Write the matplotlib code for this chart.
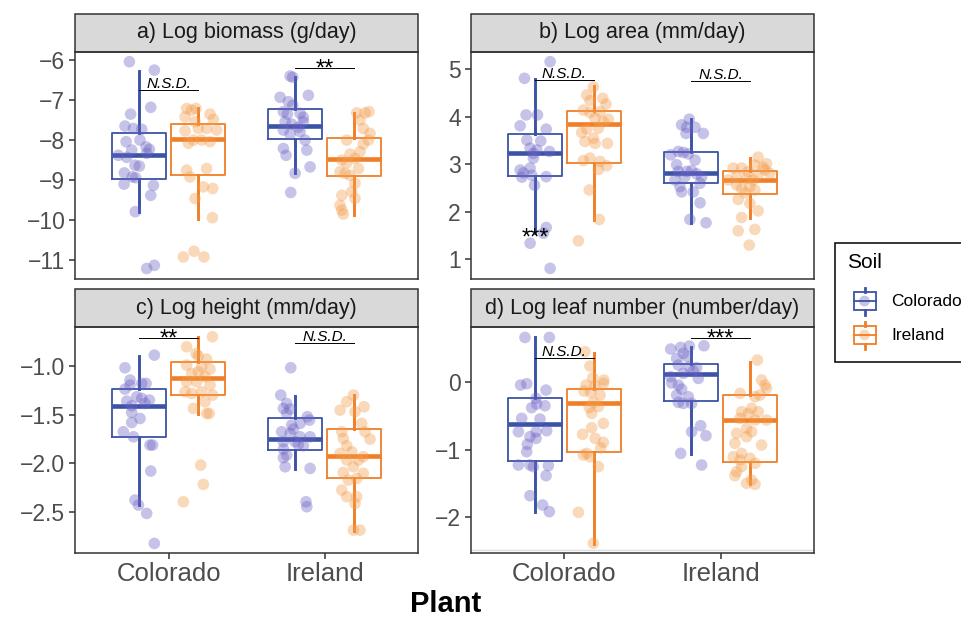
import numpy as np
import matplotlib.pyplot as plt
from matplotlib.patches import Rectangle

plt.rcParams['font.family'] = ['Liberation Sans', 'DejaVu Sans']

plants = ["Colorado", "Ireland"]
soils = ["Colorado", "Ireland"]
titles = ["a) Log biomass (g/day)", "b) Log area (mm/day)",
          "c) Log height (mm/day)", "d) Log leaf number (number/day)"]

# groups in order: plant Col/soil Col, plant Col/soil Ire, plant Ire/soil Col, plant Ire/soil Ire
biomass_lo = [-9.79, -9.96, -8.83, -9.86]
biomass_q1 = [-8.96, -8.875, -7.97, -8.90]
biomass_med = [-8.36, -7.98, -7.65, -8.46]
biomass_q3 = [-7.81, -7.60, -7.21, -7.94]
biomass_hi = [-6.28, -7.19, -6.43, -7.33]

area_lo = [1.55, 1.83, 1.77, 1.88]
area_q1 = [2.75, 3.03, 2.60, 2.38]
area_med = [3.23, 3.85, 2.81, 2.68]
area_q3 = [3.64, 4.12, 3.25, 2.86]
area_hi = [4.79, 4.65, 3.95, 3.14]

height_lo = [-2.43, -1.49, -2.06, -2.70]
height_q1 = [-1.73, -1.30, -1.86, -2.15]
height_med = [-1.41, -1.127, -1.75, -1.93]
height_q3 = [-1.24, -0.956, -1.53, -1.65]
height_hi = [-0.90, -0.70, -1.31, -1.30]

leaf_lo = [-1.93, -2.40, -1.06, -1.52]
leaf_q1 = [-1.17, -1.03, -0.27, -1.18]
leaf_med = [-0.625, -0.30, 0.12, -0.56]
leaf_q3 = [-0.23, -0.10, 0.27, -0.19]
leaf_hi = [0.67, 0.44, 0.52, 0.31]

# jittered observations (y) with their horizontal jitter (dx)
biomass_y = [
    [-6.04, -6.25, -7.18, -7.35, -7.65, -7.71, -7.73, -8.04, -8.0, -8.17, -8.23, -8.38, -8.43,
     -8.63, -8.65, -8.82, -8.92, -8.94, -9.1, -9.13, -9.38, -9.79, -11.21, -11.13, -8.33, -8.25],
    [-7.21, -7.25, -7.21, -7.35, -7.48, -7.42, -7.54, -7.77, -7.71, -7.71, -7.75, -8.08, -8.0,
     -8.0, -8.04, -8.75, -8.92, -8.71, -9.17, -9.21, -9.46, -9.94, -10.92, -10.78, -10.92],
    [-6.4, -6.43, -6.88, -6.93, -7.04, -7.13, -7.29, -7.35, -7.33, -7.43, -7.54, -7.6, -7.68,
     -7.75, -7.85, -8.0, -8.25, -8.21, -8.38, -8.67, -8.83, -9.31, -7.54, -7.79],
    [-7.32, -7.32, -7.29, -7.5, -7.71, -7.83, -8.0, -8.0, -8.1, -8.29, -8.35, -8.46, -8.5,
     -8.57, -8.71, -8.79, -8.83, -8.88, -9.08, -9.29, -9.38, -9.46, -9.63, -9.75, -9.85],
]
biomass_dx = [
    [-0.064, 0.096, 0.073, -0.056, -0.092, -0.038, 0.015, -0.085, 0.004, 0.043, 0.064, -0.135, -0.081,
     -0.028, 0, -0.096, -0.045, -0.024, -0.098, 0.09, 0.073, -0.026, 0.047, 0.096, 0.047, -0.049],
    [-0.072, -0.04, -0.012, 0.078, 0.099, -0.082, -0.018, -0.082, 0.003, 0.056, 0.12, -0.061, -0.029,
     0.024, 0.078, -0.072, -0.051, 0.056, 0.035, 0.095, -0.018, 0.093, -0.093, -0.025, 0.039],
    [-0.034, -0.017, 0.083, -0.098, -0.045, -0.017, -0.077, -0.051, 0.03, 0.051, -0.066, -0.024, 0.019,
     -0.077, -0.034, 0.062, 0.073, -0.077, -0.06, 0.094, -0.002, -0.03, 0.051, 0.03],
    [0.018, 0.071, 0.097, 0.039, 0.06, 0.103, -0.046, 0.093, 0.06, 0.039, -0.025, 0.007, -0.078,
     -0.046, 0.029, -0.089, -0.057, -0.025, 0.007, -0.014, -0.078, 0.007, -0.089, -0.078, -0.068],
]

area_y = [
    [5.16, 4.81, 4.04, 4.04, 3.81, 3.74, 3.51, 3.49, 3.34, 3.27, 3.23, 3.3, 3.13, 2.88, 2.92, 2.82,
     2.77, 2.73, 2.74, 2.56, 1.67, 1.55, 1.34, 0.81],
    [4.63, 4.46, 4.34, 4.39, 4.27, 4.14, 4.09, 4.11, 3.97, 3.95, 3.9, 3.74, 3.76, 3.67, 3.55, 3.48,
     3.44, 3.44, 3.13, 3.08, 3.06, 2.97, 2.89, 2.46, 1.84, 1.39],
    [3.95, 3.83, 3.78, 3.78, 3.65, 3.65, 3.27, 3.25, 3.22, 3.2, 3.09, 2.99, 2.85, 2.85, 2.87, 2.8,
     2.73, 2.74, 2.6, 2.67, 2.53, 2.42, 2.42, 2.19, 1.84, 1.77],
    [3.15, 2.985, 2.94, 3.01, 2.92, 2.92, 2.845, 2.775, 2.81, 2.74, 2.705, 2.67, 2.67, 2.565, 2.494,
     2.53, 2.46, 2.4, 2.26, 2.18, 2.02, 1.88, 1.6, 1.63, 1.3, 2.88],
]
area_dx = [
    [0.096, -0.068, -0.058, 0.015, -0.096, 0.071, -0.053, 0.036, -0.032, 0.092, -0.011, 0.011, -0.011,
     -0.096, -0.032, -0.075, -0.021, -0.085, 0.071, -0.004, 0.071, 0.053, -0.032, 0.096],
    [-0.002, -0.045, -0.024, 0.058, 0.079, -0.066, -0.024, 0.041, 0.009, 0.094, 0.062, -0.045, 0.03,
     -0.077, -0.002, -0.056, 0.009, 0.088, -0.024, -0.066, 0.041, 0.083, 0.03, -0.028, 0.036, -0.098],
    [-0.013, -0.062, -0.03, 0.024, -0.034, 0.077, -0.083, -0.051, -0.019, -0.132, 0.024, -0.094, -0.083,
     -0.03, 0.002, 0.034, 0.066, -0.041, 0.056, -0.105, -0.073, -0.062, 0.013, 0.056, -0.009, 0.094],
    [0.053, 0.032, 0.085, 0.107, -0.107, -0.053, -0.011, 0.053, 0.128, -0.085, -0.021, 0.021, -0.139,
     -0.085, -0.053, 0, 0.032, -0.032, -0.075, 0, 0.053, -0.053, -0.075, 0.032, -0.004, 0.096],
]

height_y = [
    [-0.887, -1.017, -1.144, -1.179, -1.179, -1.196, -1.237, -1.316, -1.333, -1.35, -1.361, -1.385,
     -1.409, -1.478, -1.54, -1.581, -1.677, -1.729, -1.814, -1.814, -2.082, -2.381, -2.433, -2.519, -2.828],
    [-0.698, -0.801, -0.87, -0.894, -0.928, -0.99, -1.007, -1.031, -1.076, -1.058, -1.11, -1.162,
     -1.162, -1.196, -1.265, -1.282, -1.265, -1.299, -1.368, -1.436, -1.488, -1.488, -2.021, -2.22, -2.399],
    [-1.017, -1.299, -1.385, -1.436, -1.443, -1.488, -1.522, -1.557, -1.608, -1.591, -1.65, -1.677,
     -1.694, -1.729, -1.729, -1.78, -1.78, -1.808, -1.821, -1.856, -1.918, -1.945, -2.038, -2.055,
     -2.399, -2.45],
    [-1.299, -1.368, -1.454, -1.419, -1.471, -1.591, -1.677, -1.677, -1.753, -1.746, -1.821, -1.883,
     -1.9, -1.935, -1.969, -1.969, -2.038, -2.096, -2.106, -2.158, -2.175, -2.278, -2.347, -2.347,
     -2.416, -2.691, -2.691],
]
height_dx = [
    [0.096, -0.092, -0.06, 0.015, 0.043, -0.06, -0.092, -0.017, 0.015, 0.064, -0.081, 0.036,
     -0.049, -0.049, 0.004, -0.049, -0.103, -0.038, 0.068, 0.085, 0.073, -0.028, -0.006, 0.047, 0.096],
    [0.093, -0.072, -0.012, 0.003, 0.056, -0.072, 0.024, 0.078, -0.04, 0.003, 0.046, -0.072,
     -0.008, 0.078, -0.082, -0.04, 0.024, 0.095, 0.046, -0.029, 0.056, 0.073, 0.018, 0.035, -0.093],
    [-0.03, -0.094, -0.056, -0.077, -0.034, -0.056, 0.077, 0.09, -0.024, 0.03, -0.013, -0.088,
     -0.034, 0.03, 0.094, -0.077, -0.002, 0.019, 0.051, -0.077, -0.056, -0.077, -0.066, 0.094,
     0.068, 0.073],
    [-0.003, -0.046, -0.089, 0.065, 0.007, 0.05, -0.078, 0.071, 0.103, -0.068, -0.046, -0.014,
     -0.089, 0.06, -0.046, 0.029, -0.003, -0.068, 0.06, 0.018, -0.036, -0.078, -0.046, 0.018,
     0.007, -0.003, 0.039],
]

leaf_y = [
    [0.669, 0.669, -0.04, -0.02, -0.115, -0.238, -0.323, -0.348, -0.377, -0.536, -0.546, -0.735,
     -0.735, -0.72, -0.809, -0.834, -0.923, -1.032, -1.23, -1.23, -1.255, -1.24, -1.389, -1.687,
     -1.826, -1.925],
    [0.456, 0.243, 0.069, 0.034, -0.015, -0.04, -0.05, -0.129, -0.149, -0.189, -0.298, -0.377,
     -0.362, -0.462, -0.611, -0.675, -0.774, -0.834, -0.893, -0.973, -1.057, -1.082, -1.107,
     -1.255, -1.935, -2.396],
    [0.496, 0.52, 0.54, 0.545, 0.431, 0.357, 0.382, 0.258, 0.233, 0.218, 0.168, 0.133, 0.084,
     0.059, -0.01, -0.04, -0.1, -0.189, -0.214, -0.298, -0.313, -0.313, -0.645, -0.735, -0.794,
     -1.057, -1.23],
    [0.332, 0.034, -0.04, -0.09, -0.189, -0.164, -0.214, -0.387, -0.437, -0.462, -0.437, -0.536,
     -0.561, -0.561, -0.685, -0.735, -0.759, -0.809, -0.908, -0.933, -1.057, -1.107, -1.156,
     -1.131, -1.206, -1.255, -1.33, -1.389, -1.454, -1.503, -1.518],
]
leaf_dx = [
    [-0.065, 0.091, -0.093, -0.054, 0.07, 0.006, 0.01, 0.063, -0.022, -0.086, 0.031, -0.107,
     0.006, 0.074, -0.033, 0.006, -0.05, -0.054, -0.107, -0.033, -0.011, 0.085, 0.07, -0.033,
     0.048, 0.091],
    [-0.056, -0.024, -0.006, 0.066, 0.062, -0.049, 0.009, -0.062, -0.019, 0.041, -0.002, -0.028,
     0.03, -0.013, 0.062, -0.013, -0.071, 0.009, 0.062, 0.045, -0.045, -0.066, -0.024, 0.03,
     -0.098, -0.002],
    [-0.132, -0.068, -0.013, 0.081, -0.051, -0.094, -0.026, -0.083, -0.013, 0.034, 0.013, -0.051,
     -0.132, 0.045, -0.126, -0.083, -0.062, -0.094, -0.019, -0.083, -0.051, 0.002, 0.06, 0.002,
     0.094, -0.068, 0.066],
    [0.048, 0.075, 0.097, 0.107, 0.065, -0.063, 0.033, 0.011, -0.053, -0.01, 0.054, -0.063,
     0.033, 0.107, -0.021, 0.011, -0.085, -0.021, -0.096, 0.075, -0.053, -0.106, -0.063, 0.001,
     0.033, -0.053, -0.085, -0.096, 0.011, -0.021, 0.033],
]

# significance labels per plant, and the height of their bracket line
biomass_sig = ["N.S.D.", "**"]
biomass_sig_y = [-6.75, -6.19]
area_sig = ["N.S.D.", "N.S.D."]
area_sig_y = [4.775, 4.75]
height_sig = ["**", "N.S.D."]
height_sig_y = [-0.71, -0.766]
leaf_sig = ["N.S.D.", "***"]
leaf_sig_y = [0.357, 0.664]

ylims = [(-11.48, -5.79), (0.58, 5.37), (-2.93, -0.60), (-2.545, 0.82)]
yticks = [[-11, -10, -9, -8, -7, -6], [1, 2, 3, 4, 5], [-2.5, -2.0, -1.5, -1.0], [-2, -1, 0]]

box_col = ["#3A53A4", "#F07E26"]
pt_col = ["#6A62C4", "#F39C4A"]
dark = "#333333"

W, H = 961, 618
fig = plt.figure(figsize=(9.61, 6.18), dpi=100)


def px_rect(x0, y0, x1, y1):
    return [x0 / W, 1 - y1 / H, (x1 - x0) / W, (y1 - y0) / H]


rects = [px_rect(75, 51.7, 418.3, 279.3), px_rect(470.7, 51.7, 814.3, 279.3),
         px_rect(75, 327.3, 418.3, 553.3), px_rect(470.7, 327.3, 814.3, 553.3)]

panels = [
    (biomass_lo, biomass_q1, biomass_med, biomass_q3, biomass_hi, biomass_y, biomass_dx, biomass_sig, biomass_sig_y),
    (area_lo, area_q1, area_med, area_q3, area_hi, area_y, area_dx, area_sig, area_sig_y),
    (height_lo, height_q1, height_med, height_q3, height_hi, height_y, height_dx, height_sig, height_sig_y),
    (leaf_lo, leaf_q1, leaf_med, leaf_q3, leaf_hi, leaf_y, leaf_dx, leaf_sig, leaf_sig_y),
]


def star_label(ax, txt, x, y):
    ax.annotate(txt, (x, y), xytext=(0, -5.3), textcoords='offset points',
                ha='center', va='baseline', fontsize=17)


dodge = 0.1875
for p, (lo, q1, med, q3, hi, ys, dxs, sig, sig_y) in enumerate(panels):
    ax = fig.add_axes(rects[p])
    for k in range(4):
        i, j = k // 2, k % 2
        pos = i + 1 + (j * 2 - 1) * dodge
        st = dict(med=med[k], q1=q1[k], q3=q3[k], whislo=lo[k], whishi=hi[k], fliers=[])
        ax.bxp([st], positions=[pos], widths=0.345, showcaps=False, showfliers=False,
               manage_ticks=False,
               boxprops=dict(color=box_col[j], lw=1.3),
               whiskerprops=dict(color=box_col[j], lw=2.1),
               medianprops=dict(color=box_col[j], lw=3.3, solid_capstyle='butt'))
        ax.scatter(pos + np.array(dxs[k]), np.array(ys[k]), s=70, c=pt_col[j],
                   alpha=0.38, edgecolors='none', zorder=3)
    for i in range(2):
        x0, x1 = i + 1 - dodge, i + 1 + dodge
        ax.plot([x0, x1], [sig_y[i], sig_y[i]], color='black', lw=0.7)
        if sig[i].startswith('*'):
            star_label(ax, sig[i], i + 1, sig_y[i])
        else:
            ax.annotate(sig[i], (i + 1, sig_y[i]), xytext=(0, 1.5), textcoords='offset points',
                        ha='center', va='baseline', fontsize=11, style='italic')
    if p == 1:
        star_label(ax, "***", 1 - dodge, 1.46)
    if p == 3:
        ax.axhline(-2.5, color='#dcdcdc', lw=1, zorder=0)

    ax.set_xlim(0.4, 2.6)
    ax.set_ylim(*ylims[p])
    ax.set_yticks(yticks[p])
    for s in ax.spines.values():
        s.set_color(dark)
        s.set_linewidth(1.1)
    ax.tick_params(axis='y', length=4, width=1.1, color=dark, labelsize=16.5,
                   labelcolor='#4d4d4d', pad=3)
    if p < 2:
        ax.tick_params(axis='x', bottom=False, labelbottom=False)
    else:
        ax.set_xticks([1, 2])
        ax.set_xticklabels(plants)
        ax.tick_params(axis='x', length=4, width=1.1, color=dark, labelsize=18.5,
                       labelcolor='#4d4d4d', pad=2)

    ax_h = rects[p][3] * H
    sh = 38 / ax_h
    ax.add_patch(Rectangle((0, 1), 1, sh, transform=ax.transAxes, facecolor='#d9d9d9',
                           edgecolor=dark, lw=1.1, clip_on=False))
    ax.text(0.5, 1 + sh / 2, titles[p], transform=ax.transAxes, ha='center', va='center',
            fontsize=15.5, color='#1a1a1a')

fig.text(446 / W, 1 - 612 / H, "Plant", fontsize=21, fontweight='bold', ha='center', va='baseline')

# legend drawn in pixel coordinates
lg = fig.add_axes([0, 0, 1, 1])
lg.set_xlim(0, W)
lg.set_ylim(H, 0)
lg.axis('off')
lg.add_patch(Rectangle((835, 243.3), 200, 118.4, facecolor='white', edgecolor='black', lw=1.1))
lg.text(847, 263, "Soil", fontsize=15, ha='left', va='center')
for j, yc in enumerate([301, 335]):
    c = box_col[j]
    lg.add_patch(Rectangle((853.5, yc - 9), 22, 18, facecolor='none', edgecolor=c, lw=1.3))
    lg.plot([864.5, 864.5], [yc - 13.5, yc - 9], color=c, lw=2)
    lg.plot([864.5, 864.5], [yc + 9, yc + 13.5], color=c, lw=2)
    lg.plot([853.5, 875.5], [yc, yc], color=c, lw=1.3)
    lg.scatter([864.5], [yc], s=60, c=pt_col[j], alpha=0.38, edgecolors='none')
    lg.text(891, yc, soils[j], fontsize=12.5, ha='left', va='center')

fig.savefig("out.png", dpi=100)
